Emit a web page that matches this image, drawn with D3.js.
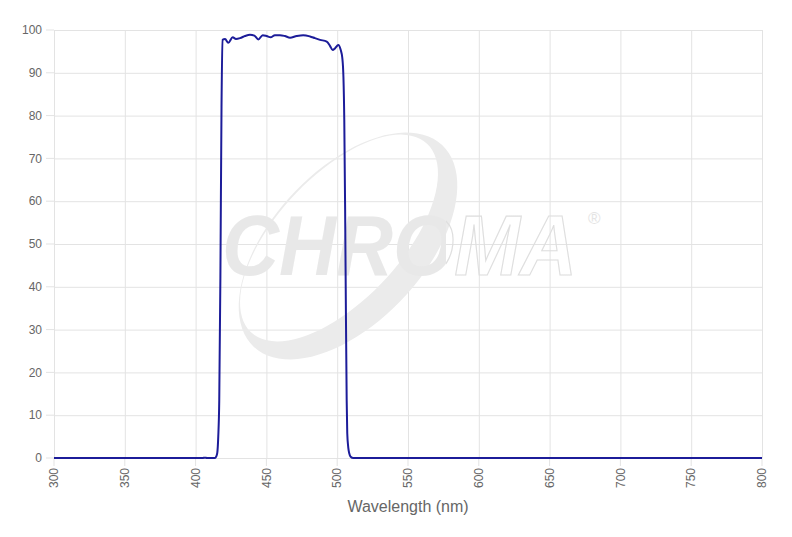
<!DOCTYPE html>
<html>
<head>
<meta charset="utf-8">
<script src="https://cdn.jsdelivr.net/npm/d3@7"></script>
<style>
	body { margin: 0; background: #fff; font-family: "Liberation Sans", Arial, sans-serif; }
	.grid line { stroke: #e3e3e3; stroke-width: 1; }
	.tick text { fill: #666; font-size: 12px; }
</style>
</head>
<body>
<script>
var width = 792,
	height = 537;

// Spectrum (wavelength in nm, transmission in %)
var wavelengths = [300, 350, 400, 405, 406.6, 408, 412, 413.7, 414.5, 415.3, 416, 416.7, 417.5, 418.3, 419,
	420.8, 423.1, 426.2, 428.5, 431.4, 434.9, 438.4, 441.5, 444.3, 447.4, 450.2, 453, 456, 459.6, 463,
	466.7, 471.4, 476, 480.8, 484.3, 487.9, 492.6, 494.9, 496.8, 498.4, 500.8, 502.5, 503.6, 504.4, 505,
	505.6, 506.2, 506.7, 507.1, 507.8, 508.5, 509.5, 511.4, 520, 600, 700, 800];
var transmission = [0, 0, 0, 0, 0.08, 0, 0, 0, 0.3, 1.2, 5, 13.5, 42, 82, 97.7,
	97.9, 97.0, 98.3, 97.9, 98.1, 98.6, 98.9, 98.7, 97.8, 98.8, 98.6, 98.3, 98.8, 98.8, 98.6,
	98.2, 98.6, 98.8, 98.5, 98.1, 97.7, 97.3, 96.3, 95.3, 95.7, 96.5, 95.3, 93.5, 89, 79,
	58, 32, 13.5, 5.8, 2.5, 1.1, 0.3, 0, 0, 0, 0, 0];

var xTicks = [300, 350, 400, 450, 500, 550, 600, 650, 700, 750, 800];
var yTicks = [0, 10, 20, 30, 40, 50, 60, 70, 80, 90, 100];

var margin = {top: 30, right: 30, bottom: 79, left: 54};

var x = d3.scaleLinear()
	.domain([300, 800])
	.range([margin.left, width - margin.right]);

var y = d3.scaleLinear()
	.domain([0, 100])
	.range([height - margin.bottom, margin.top]);

var svg = d3.select("body").append("svg")
	.attr("width", width)
	.attr("height", height);

// Grid lines and ticks
svg.append("g")
	.attr("class", "grid")
	.attr("transform", "translate(0," + (height - margin.bottom) + ")")
	.call(d3.axisBottom(x).tickValues(xTicks).tickSize(-(height - margin.top - margin.bottom)).tickFormat(""))
	.call(function(g) { g.select(".domain").remove(); });

svg.append("g")
	.attr("class", "grid")
	.attr("transform", "translate(" + margin.left + ",0)")
	.call(d3.axisLeft(y).tickValues(yTicks).tickSize(-(width - margin.left - margin.right)).tickFormat(""))
	.call(function(g) { g.select(".domain").remove(); });

// Outer tick marks
svg.append("g")
	.attr("class", "grid")
	.selectAll("line.xt")
	.data(xTicks)
	.enter().append("line")
		.attr("x1", function(d) { return x(d); })
		.attr("x2", function(d) { return x(d); })
		.attr("y1", y(0))
		.attr("y2", y(0) + 8);

svg.append("g")
	.attr("class", "grid")
	.selectAll("line.yt")
	.data(yTicks)
	.enter().append("line")
		.attr("x1", margin.left - 8)
		.attr("x2", margin.left)
		.attr("y1", function(d) { return y(d); })
		.attr("y2", function(d) { return y(d); });

// Watermark logo
var logo = svg.append("g").attr("class", "watermark");

function ellipsePath(cx, cy, rx, ry, rot) {
	var pts = d3.range(0, 361, 4).map(function(a) {
		var t = a * Math.PI / 180, r = rot * Math.PI / 180;
		var ex = rx * Math.cos(t), ey = ry * Math.sin(t);
		return [cx + ex * Math.cos(r) - ey * Math.sin(r), cy + ex * Math.sin(r) + ey * Math.cos(r)];
	});
	return "M" + pts.join("L") + "Z";
}

logo.append("path")
	.attr("d", ellipsePath(348, 246, 138, 76, -47) + ellipsePath(339, 238, 129, 62, -47))
	.attr("fill", "#ebebeb")
	.attr("fill-rule", "evenodd");

// "CHRO" solid, "MA" outlined: split the word with hard-stop gradients
var defs = svg.append("defs");
var fillGrad = defs.append("linearGradient")
	.attr("id", "logoFill")
	.attr("gradientUnits", "userSpaceOnUse")
	.attr("x1", 0).attr("x2", width).attr("y1", 0).attr("y2", 0);
fillGrad.append("stop").attr("offset", 446 / width).attr("stop-color", "#e8e8e8");
fillGrad.append("stop").attr("offset", 446 / width).attr("stop-color", "#fff").attr("stop-opacity", 0);

var strokeGrad = defs.append("linearGradient")
	.attr("id", "logoStroke")
	.attr("gradientUnits", "userSpaceOnUse")
	.attr("x1", 0).attr("x2", width).attr("y1", 0).attr("y2", 0);
strokeGrad.append("stop").attr("offset", 446 / width).attr("stop-color", "#fff").attr("stop-opacity", 0);
strokeGrad.append("stop").attr("offset", 446 / width).attr("stop-color", "#dedede");

// word is squeezed horizontally with a transform so its box ends where the glyphs end
var wordG = logo.append("g");
var word = wordG.append("text")
	.attr("x", 0)
	.attr("y", 0)
	.style("font-size", "86px")
	.style("font-weight", "bold")
	.style("font-style", "italic")
	.style("fill", "url(#logoFill)")
	.style("stroke", "url(#logoStroke)")
	.style("stroke-width", 1.2)
	.text("CHROMA");

var natural = word.node().getComputedTextLength();
var sx = 355 / natural;
wordG.attr("transform", "translate(222,275) scale(" + sx + ",1)");
// keep the gradient split in page coordinates
fillGrad.attr("gradientTransform", "translate(-222,0) scale(" + (1 / sx) + ",1) translate(0,0)");
strokeGrad.attr("gradientTransform", "translate(-222,0) scale(" + (1 / sx) + ",1) translate(0,0)");
fillGrad.attr("gradientTransform", null).attr("x1", -222 / sx).attr("x2", (width - 222) / sx);
strokeGrad.attr("gradientTransform", null).attr("x1", -222 / sx).attr("x2", (width - 222) / sx);

logo.append("text")
	.attr("x", 588)
	.attr("y", 224)
	.style("font-size", "17px")
	.style("fill", "#e4e4e4")
	.text("\u00ae");

// Tick labels
svg.append("g")
	.selectAll("text")
	.data(yTicks)
	.enter().append("text")
		.attr("x", margin.left - 12)
		.attr("y", function(d) { return y(d); })
		.attr("dy", "0.35em")
		.attr("text-anchor", "end")
		.style("fill", "#666")
		.style("font-size", "12px")
		.text(function(d) { return d; });

svg.append("g")
	.selectAll("text")
	.data(xTicks)
	.enter().append("text")
		.attr("transform", function(d) { return "translate(" + x(d) + "," + (y(0) + 10) + ") rotate(-90)"; })
		.attr("dy", "0.35em")
		.attr("text-anchor", "end")
		.style("fill", "#666")
		.style("font-size", "12px")
		.text(function(d) { return d; });

// Axis title
svg.append("text")
	.attr("x", (x(300) + x(800)) / 2)
	.attr("y", 512)
	.attr("text-anchor", "middle")
	.style("fill", "#666")
	.style("font-size", "16px")
	.text("Wavelength (nm)");

// Transmission curve
var data = wavelengths.map(function(w, i) { return [w, transmission[i]]; });

var line = d3.line()
	.x(function(d) { return x(d[0]); })
	.y(function(d) { return y(d[1]); })
	.curve(d3.curveMonotoneX);

svg.append("path")
	.datum(data)
	.attr("d", line)
	.attr("fill", "none")
	.attr("stroke", "#1c1c99")
	.attr("stroke-width", 2);
</script>
</body>
</html>
